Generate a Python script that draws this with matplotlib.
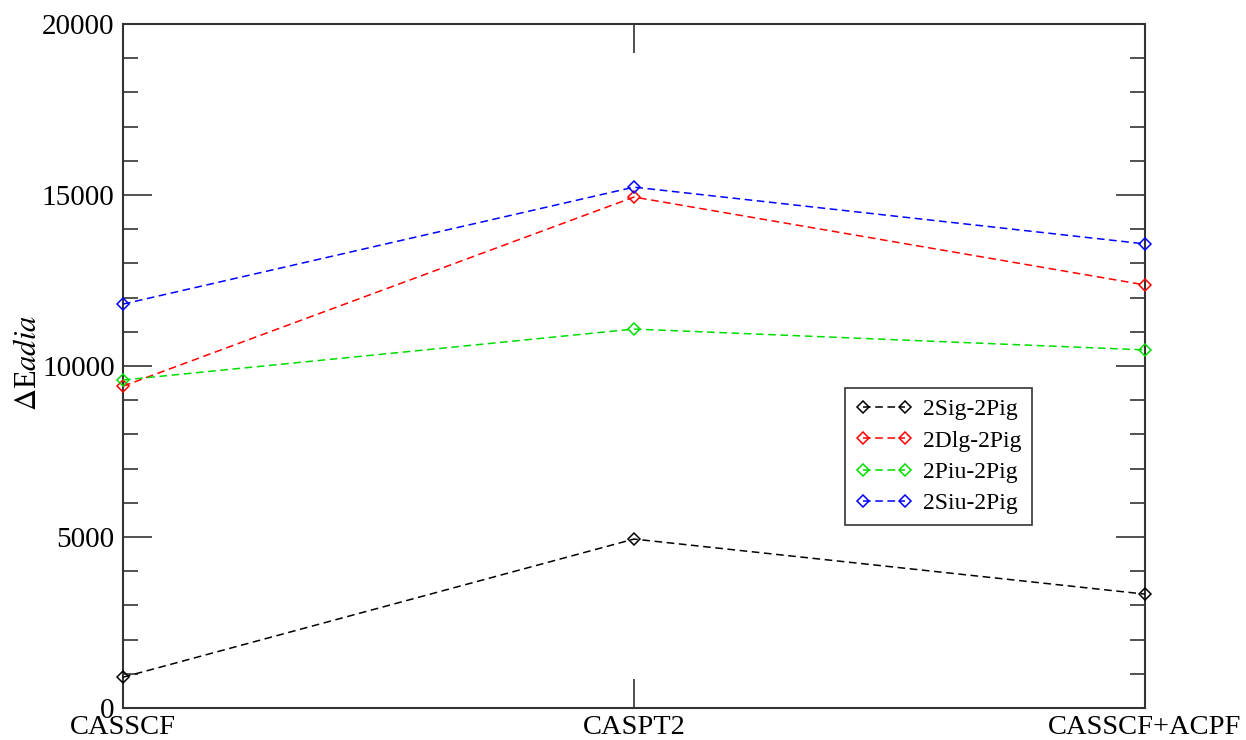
import matplotlib.pyplot as plt
from matplotlib.ticker import MultipleLocator

plt.rcParams["font.family"] = ["Liberation Serif", "DejaVu Serif"]
plt.rcParams["mathtext.fontset"] = "stix"

methods = ["CASSCF", "CASPT2", "CASSCF+ACPF"]
labels = ["2Sig-2Pig", "2Dlg-2Pig", "2Piu-2Pig", "2Siu-2Pig"]
colors = ["black", "red", "#00dd00", "blue"]

sig_pig = [900, 4940, 3330]
dlg_pig = [9410, 14940, 12370]
piu_pig = [9590, 11080, 10470]
siu_pig = [11810, 15230, 13570]
series = [sig_pig, dlg_pig, piu_pig, siu_pig]

fig = plt.figure(figsize=(12.46, 7.4), dpi=100)
ax = fig.add_axes([123 / 1246, 32 / 740, 1022 / 1246, 684 / 740])

x = range(len(methods))
for vals, lab, col in zip(series, labels, colors):
    ax.plot(x, vals, linestyle=(0, (5, 3)), color=col, linewidth=1.1,
            marker="D", markersize=6.5, markerfacecolor="none",
            markeredgecolor=col, markeredgewidth=1.1, label=lab,
            clip_on=False, zorder=3)

ax.set_xlim(0, 2)
ax.set_ylim(0, 20000)
ax.set_xticks(list(x))
ax.set_xticklabels(methods, fontsize=20.5)
ax.yaxis.set_major_locator(MultipleLocator(5000))
ax.yaxis.set_minor_locator(MultipleLocator(1000))
ax.tick_params(axis="y", labelsize=21)
ax.tick_params(which="both", direction="in", top=True, right=True, width=1.2,
               color="#333333")
ax.tick_params(which="major", length=21)
ax.tick_params(which="minor", length=11)
ax.tick_params(axis="x", pad=5)
ax.tick_params(axis="y", pad=6)
for s in ax.spines.values():
    s.set_linewidth(1.5)
    s.set_color("#333333")

ax.set_ylabel(r"$\Delta$E$\it{adia}$", fontsize=22)
ax.yaxis.set_label_coords(-80 / 1022, 0.505)

# legend box sits right of centre, just below the 10000 line
leg = ax.legend(loc="upper left", bbox_to_anchor=(722 / 1022, (708 - 388) / 684),
                fontsize=17, frameon=True, fancybox=False, numpoints=2,
                handlelength=2.4, borderpad=0.45, labelspacing=0.42,
                handletextpad=0.45, borderaxespad=0)
leg.get_frame().set_edgecolor("black")
leg.get_frame().set_linewidth(1.2)

fig.savefig("out.png", dpi=100)
